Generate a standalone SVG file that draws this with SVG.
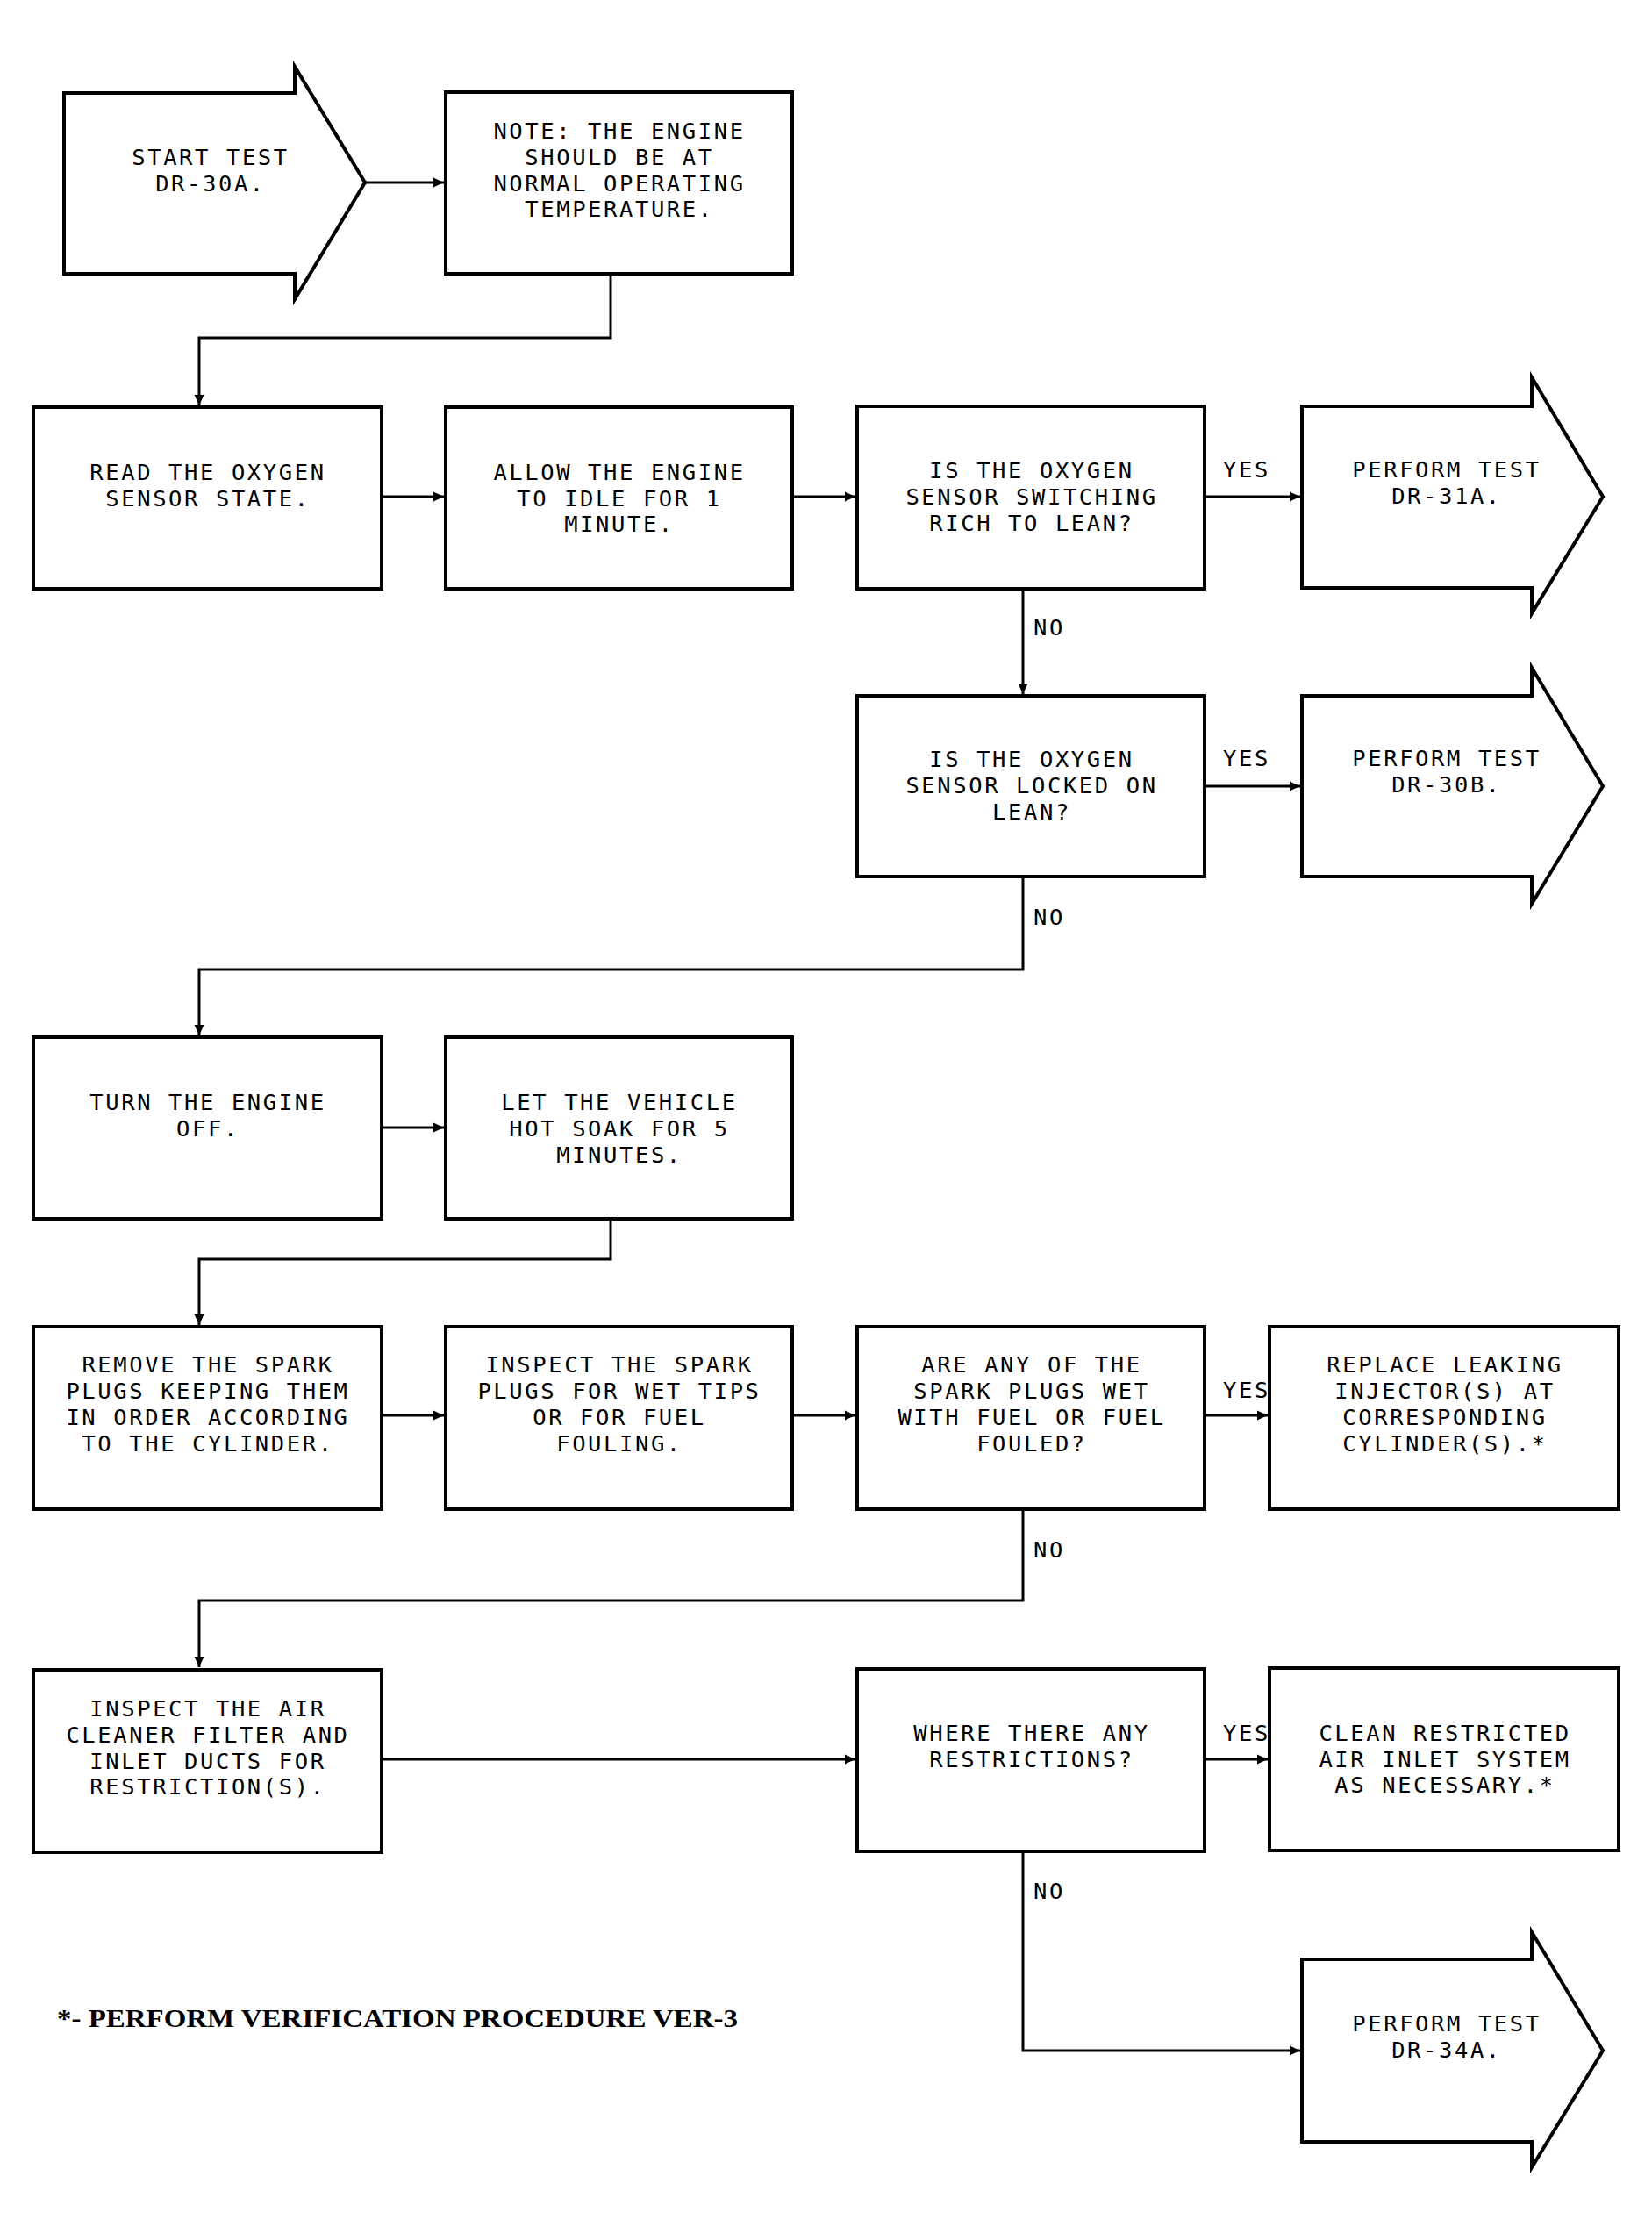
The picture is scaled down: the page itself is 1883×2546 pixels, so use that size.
<svg xmlns="http://www.w3.org/2000/svg" width="1883" height="2546" viewBox="0 0 1883 2546">
<style>
.box{fill:#fff;stroke:#000;stroke-width:4;stroke-linejoin:miter}
.ln{fill:none;stroke:#000;stroke-width:3}
.t{font-family:"DejaVu Sans Mono","Liberation Mono",monospace;font-size:25.5px;letter-spacing:2.6px;fill:#000;text-anchor:middle}
.lb{font-family:"DejaVu Sans Mono","Liberation Mono",monospace;font-size:25.5px;letter-spacing:2.6px;fill:#000}
.fn{font-family:"Liberation Serif","Times New Roman",serif;font-size:29px;font-weight:bold;fill:#000}
</style>
<defs>
<marker id="ah" viewBox="0 0 12 12" refX="12" refY="6" markerWidth="12" markerHeight="12" markerUnits="userSpaceOnUse" orient="auto">
<path d="M0,0.5 L12,6 L0,11.5 Z" fill="#000"/>
</marker>
</defs>
<rect width="1883" height="2546" fill="#fff"/>

<g id="connectors">
<path class="ln" d="M416,208 L506,208" marker-end="url(#ah)"/>
<path class="ln" d="M696,312 L696,385 L227,385 L227,462" marker-end="url(#ah)"/>
<path class="ln" d="M435,566 L506,566" marker-end="url(#ah)"/>
<path class="ln" d="M903,566 L975,566" marker-end="url(#ah)"/>
<path class="ln" d="M1373,566 L1482,566" marker-end="url(#ah)"/>
<path class="ln" d="M1166,671 L1166,791" marker-end="url(#ah)"/>
<path class="ln" d="M1373,896 L1482,896" marker-end="url(#ah)"/>
<path class="ln" d="M1166,999 L1166,1105 L227,1105 L227,1180" marker-end="url(#ah)"/>
<path class="ln" d="M435,1285 L506,1285" marker-end="url(#ah)"/>
<path class="ln" d="M696,1389 L696,1435 L227,1435 L227,1510" marker-end="url(#ah)"/>
<path class="ln" d="M435,1613 L506,1613" marker-end="url(#ah)"/>
<path class="ln" d="M903,1613 L975,1613" marker-end="url(#ah)"/>
<path class="ln" d="M1373,1613 L1445,1613" marker-end="url(#ah)"/>
<path class="ln" d="M1166,1720 L1166,1824 L227,1824 L227,1900" marker-end="url(#ah)"/>
<path class="ln" d="M435,2005 L975,2005" marker-end="url(#ah)"/>
<path class="ln" d="M1373,2005 L1445,2005" marker-end="url(#ah)"/>
<path class="ln" d="M1166,2110 L1166,2337 L1482,2337" marker-end="url(#ah)"/>
<text class="lb" x="1394" y="544">YES</text>
<text class="lb" x="1178" y="724">NO</text>
<text class="lb" x="1394" y="873">YES</text>
<text class="lb" x="1178" y="1054">NO</text>
<text class="lb" x="1394" y="1593">YES</text>
<text class="lb" x="1178" y="1775">NO</text>
<text class="lb" x="1394" y="1984">YES</text>
<text class="lb" x="1178" y="2164">NO</text>
</g>

<g id="start">
<polygon class="box" points="73,106 336,106 336,76 416,208 336,341 336,312 73,312"/>
<text class="t"><tspan x="240" y="188">START TEST</tspan><tspan x="240" y="218">DR-30A.</tspan></text>
</g>

<g id="note">
<rect class="box" x="508" y="105" width="395" height="207"/>
<text class="t"><tspan x="706" y="158">NOTE: THE ENGINE</tspan><tspan x="706" y="188">SHOULD BE AT</tspan><tspan x="706" y="218">NORMAL OPERATING</tspan><tspan x="706" y="247">TEMPERATURE.</tspan></text>
</g>

<g id="read">
<rect class="box" x="38" y="464" width="397" height="207"/>
<text class="t"><tspan x="237" y="547">READ THE OXYGEN</tspan><tspan x="237" y="577">SENSOR STATE.</tspan></text>
</g>

<g id="allow">
<rect class="box" x="508" y="464" width="395" height="207"/>
<text class="t"><tspan x="706" y="547">ALLOW THE ENGINE</tspan><tspan x="706" y="577">TO IDLE FOR 1</tspan><tspan x="706" y="606">MINUTE.</tspan></text>
</g>

<g id="q1">
<rect class="box" x="977" y="463" width="396" height="208"/>
<text class="t"><tspan x="1176" y="545">IS THE OXYGEN</tspan><tspan x="1176" y="575">SENSOR SWITCHING</tspan><tspan x="1176" y="605">RICH TO LEAN?</tspan></text>
</g>

<g id="dr31a">
<polygon class="box" points="1484,463 1746,463 1746,430 1827,566 1746,699 1746,670 1484,670"/>
<text class="t"><tspan x="1649" y="544">PERFORM TEST</tspan><tspan x="1649" y="574">DR-31A.</tspan></text>
</g>

<g id="q2">
<rect class="box" x="977" y="793" width="396" height="206"/>
<text class="t"><tspan x="1176" y="874">IS THE OXYGEN</tspan><tspan x="1176" y="904">SENSOR LOCKED ON</tspan><tspan x="1176" y="934">LEAN?</tspan></text>
</g>

<g id="dr30b">
<polygon class="box" points="1484,793 1746,793 1746,761 1827,896 1746,1030 1746,999 1484,999"/>
<text class="t"><tspan x="1649" y="873">PERFORM TEST</tspan><tspan x="1649" y="903">DR-30B.</tspan></text>
</g>

<g id="turn">
<rect class="box" x="38" y="1182" width="397" height="207"/>
<text class="t"><tspan x="237" y="1265">TURN THE ENGINE</tspan><tspan x="237" y="1295">OFF.</tspan></text>
</g>

<g id="soak">
<rect class="box" x="508" y="1182" width="395" height="207"/>
<text class="t"><tspan x="706" y="1265">LET THE VEHICLE</tspan><tspan x="706" y="1295">HOT SOAK FOR 5</tspan><tspan x="706" y="1325">MINUTES.</tspan></text>
</g>

<g id="remove">
<rect class="box" x="38" y="1512" width="397" height="208"/>
<text class="t"><tspan x="237" y="1564">REMOVE THE SPARK</tspan><tspan x="237" y="1594">PLUGS KEEPING THEM</tspan><tspan x="237" y="1624">IN ORDER ACCORDING</tspan><tspan x="237" y="1654">TO THE CYLINDER.</tspan></text>
</g>

<g id="inspect-plugs">
<rect class="box" x="508" y="1512" width="395" height="208"/>
<text class="t"><tspan x="706" y="1564">INSPECT THE SPARK</tspan><tspan x="706" y="1594">PLUGS FOR WET TIPS</tspan><tspan x="706" y="1624">OR FOR FUEL</tspan><tspan x="706" y="1654">FOULING.</tspan></text>
</g>

<g id="q3">
<rect class="box" x="977" y="1512" width="396" height="208"/>
<text class="t"><tspan x="1176" y="1564">ARE ANY OF THE</tspan><tspan x="1176" y="1594">SPARK PLUGS WET</tspan><tspan x="1176" y="1624">WITH FUEL OR FUEL</tspan><tspan x="1176" y="1654">FOULED?</tspan></text>
</g>

<g id="replace">
<rect class="box" x="1447" y="1512" width="398" height="208"/>
<text class="t"><tspan x="1647" y="1564">REPLACE LEAKING</tspan><tspan x="1647" y="1594">INJECTOR(S) AT</tspan><tspan x="1647" y="1624">CORRESPONDING</tspan><tspan x="1647" y="1654">CYLINDER(S).*</tspan></text>
</g>

<g id="inspect-air">
<rect class="box" x="38" y="1903" width="397" height="208"/>
<text class="t"><tspan x="237" y="1956">INSPECT THE AIR</tspan><tspan x="237" y="1986">CLEANER FILTER AND</tspan><tspan x="237" y="2016">INLET DUCTS FOR</tspan><tspan x="237" y="2045">RESTRICTION(S).</tspan></text>
</g>

<g id="q4">
<rect class="box" x="977" y="1902" width="396" height="208"/>
<text class="t"><tspan x="1176" y="1984">WHERE THERE ANY</tspan><tspan x="1176" y="2014">RESTRICTIONS?</tspan></text>
</g>

<g id="clean">
<rect class="box" x="1447" y="1901" width="398" height="208"/>
<text class="t"><tspan x="1647" y="1984">CLEAN RESTRICTED</tspan><tspan x="1647" y="2014">AIR INLET SYSTEM</tspan><tspan x="1647" y="2043">AS NECESSARY.*</tspan></text>
</g>

<g id="dr34a">
<polygon class="box" points="1484,2233 1746,2233 1746,2202 1827,2337 1746,2470 1746,2441 1484,2441"/>
<text class="t"><tspan x="1649" y="2315">PERFORM TEST</tspan><tspan x="1649" y="2345">DR-34A.</tspan></text>
</g>

<g id="footnote">
<text class="fn" x="65" y="2310" textLength="776" lengthAdjust="spacingAndGlyphs">*- PERFORM VERIFICATION PROCEDURE VER-3</text>
</g>
</svg>
